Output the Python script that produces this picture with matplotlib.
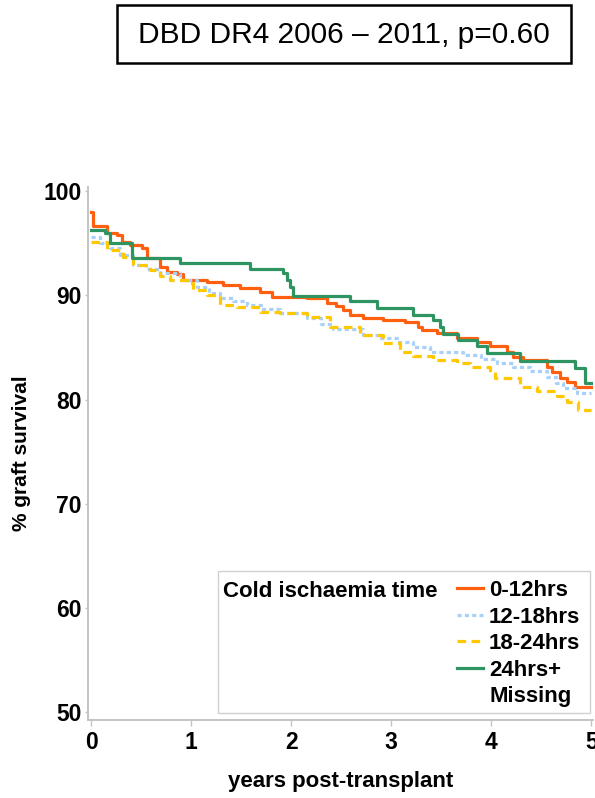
import matplotlib
matplotlib.use("Agg")
import matplotlib.pyplot as plt
from matplotlib.lines import Line2D
from matplotlib.patches import Rectangle

plt.rcParams["font.family"] = ["Liberation Sans", "DejaVu Sans"]

# ---------- Data ----------
title = "DBD DR4 2006 \u2013 2011, p=0.60"
legend_title = "Cold ischaemia time"
group_labels = ["0-12hrs", "12-18hrs", "18-24hrs", "24hrs+"]
extra_label = "Missing"

t_0_12 = [0.0, 0.015, 0.16, 0.26, 0.31, 0.39, 0.51, 0.56, 0.69, 0.76, 0.86, 0.92,
          1.16, 1.32, 1.49, 1.69, 1.81, 2.16, 2.36, 2.45, 2.52, 2.59, 2.72, 2.92,
          3.14, 3.27, 3.31, 3.46, 3.66, 3.86, 3.99, 4.16, 4.22, 4.32, 4.56, 4.61,
          4.69, 4.76, 4.84, 5.0]
s_0_12 = [98.0, 96.6, 96.0, 95.8, 95.1, 94.8, 94.5, 93.6, 92.7, 92.2, 92.0, 91.5,
          91.3, 91.0, 90.7, 90.3, 89.8, 89.7, 89.3, 89.0, 88.6, 88.1, 87.8, 87.6,
          87.4, 87.0, 86.7, 86.4, 85.9, 85.5, 85.1, 84.6, 84.1, 83.8, 83.1, 82.6,
          82.1, 81.7, 81.2, 81.2]

t_12_18 = [0.0, 0.09, 0.19, 0.29, 0.42, 0.55, 0.69, 0.89, 1.06, 1.18, 1.29, 1.42,
           1.56, 1.72, 1.89, 2.16, 2.3, 2.42, 2.72, 2.9, 3.06, 3.22, 3.39, 3.72,
           3.9, 4.06, 4.22, 4.39, 4.56, 4.65, 4.72, 4.86, 5.0]
s_12_18 = [95.6, 95.0, 94.5, 93.9, 92.9, 92.5, 92.1, 91.5, 90.8, 90.2, 89.7, 89.4,
           89.1, 88.7, 88.3, 87.8, 87.2, 86.8, 86.2, 85.9, 85.5, 85.0, 84.6, 84.3,
           83.9, 83.5, 83.1, 82.7, 82.2, 81.6, 81.1, 80.6, 80.6]

t_18_24 = [0.0, 0.16, 0.32, 0.42, 0.59, 0.69, 0.79, 0.96, 1.02, 1.16, 1.29, 1.46,
           1.69, 1.89, 2.16, 2.39, 2.69, 2.92, 3.09, 3.22, 3.42, 3.66, 3.79, 3.99,
           4.04, 4.29, 4.46, 4.66, 4.76, 4.87, 5.0]
s_18_24 = [95.1, 94.3, 93.7, 92.9, 92.4, 91.8, 91.5, 91.2, 90.5, 90.0, 89.1, 88.9,
           88.4, 88.3, 87.9, 87.0, 86.2, 85.4, 84.6, 84.2, 83.8, 83.5, 83.1, 82.6,
           82.1, 81.2, 80.8, 80.3, 79.8, 79.0, 79.0]

t_24 = [0.0, 0.14, 0.19, 0.41, 0.89, 1.59, 1.92, 1.96, 1.99, 2.02, 2.59, 2.86,
        3.22, 3.42, 3.49, 3.52, 3.67, 3.86, 3.96, 4.29, 4.84, 4.94, 5.0]
s_24 = [96.3, 96.0, 95.0, 93.6, 93.1, 92.5, 92.1, 91.5, 90.8, 89.9, 89.4, 88.8,
        88.1, 87.6, 87.0, 86.3, 85.7, 85.1, 84.5, 83.7, 83.0, 81.6, 81.6]

x_ticks = [0, 1, 2, 3, 4, 5]
y_ticks = [50, 60, 70, 80, 90, 100]

# ---------- Style ----------
colors = ["#ff6010", "#a8d0f8", "#ffc800", "#2e9462"]
styles = ["-", (0, (1.3, 1.0)), (0, (2.7, 1.7)), "-"]
axis_grey = "#c4c4c4"

fig = plt.figure(figsize=(5.95, 7.98), dpi=100)
ax = fig.add_axes([0.148, 0.098, 0.849, 0.668])

series = [(t_0_12, s_0_12), (t_12_18, s_12_18), (t_18_24, s_18_24), (t_24, s_24)]
handles = []
for (t, s), c, ls, lab in zip(series, colors, styles, group_labels):
    h, = ax.step(t, s, where="post", color=c, lw=2.3, ls=ls, label=lab)
    handles.append(h)
handles.append(Line2D([], [], color="none"))

ax.set_xlim(-0.03, 5.02)
ax.set_ylim(49.3, 100.4)
ax.set_xticks(x_ticks)
ax.set_yticks(y_ticks)
for sp in ["top", "right"]:
    ax.spines[sp].set_visible(False)
for sp in ["left", "bottom"]:
    ax.spines[sp].set_color(axis_grey)
    ax.spines[sp].set_linewidth(1.4)
ax.tick_params(colors=axis_grey, width=1, labelcolor="black", labelsize=16.5)
ax.tick_params(axis="y", length=2.5, pad=2)
ax.tick_params(axis="x", length=4, pad=4)
for lbl in ax.get_xticklabels() + ax.get_yticklabels():
    lbl.set_fontweight("bold")

ax.set_xlabel("years post-transplant", fontsize=16, fontweight="bold", labelpad=12)
ax.set_ylabel("% graft survival", fontsize=15, fontweight="bold", labelpad=9)

# legend: frame + title on the left, entries on the right
ax.add_patch(Rectangle((0.257, 0.013), 0.737, 0.266, transform=ax.transAxes,
                       fill=False, ec="#d0d0d0", lw=1))
ax.text(0.267, 0.240, legend_title, transform=ax.transAxes, fontsize=16,
        fontweight="bold", va="center", ha="left")
ax.legend(handles, group_labels + [extra_label], loc="upper left",
          bbox_to_anchor=(0.730, 0.262), borderaxespad=0, borderpad=0,
          frameon=False, handlelength=1.2, handletextpad=0.25,
          labelspacing=0.25, prop=dict(size=16, weight="bold"))

# title box
fig.add_artist(Rectangle((0.1966, 0.921), 0.763, 0.0727, transform=fig.transFigure,
                         fill=False, ec="black", lw=1.8))
fig.text(0.578, 0.956, title, fontsize=21.5, ha="center", va="center")

fig.savefig("out.png", dpi=100)
